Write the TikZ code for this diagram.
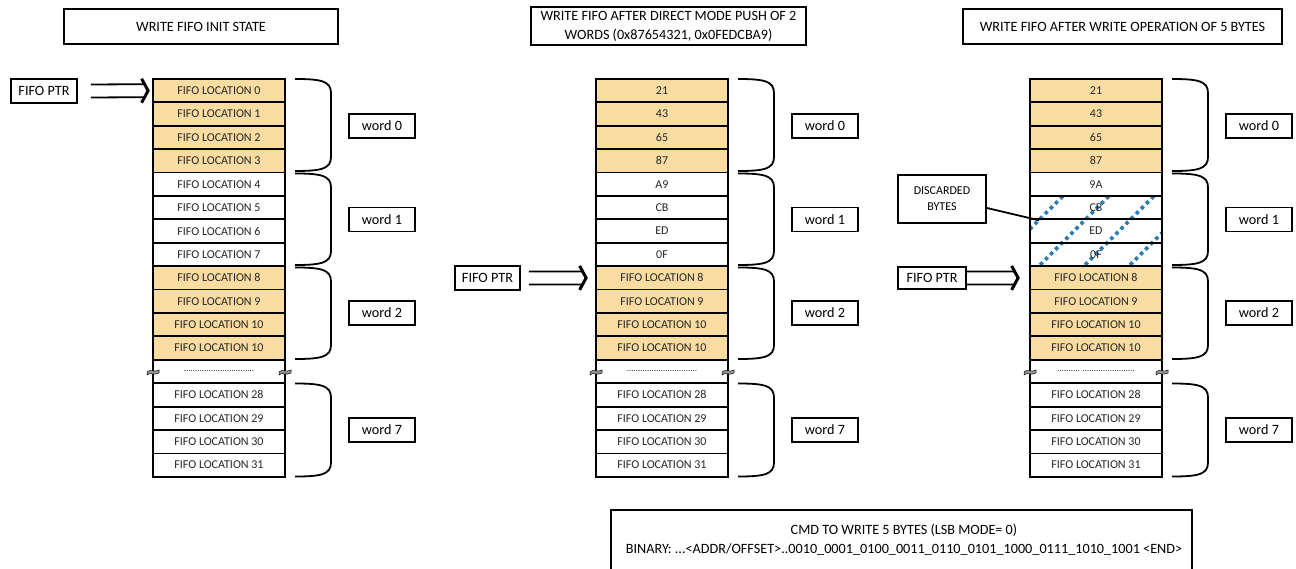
\documentclass[tikz,border=0pt]{standalone}
\usepackage{fontspec}
\setmainfont{Carlito}
\usetikzlibrary{calc}
\definecolor{cellorange}{RGB}{249,220,162}
\definecolor{hatchblue}{RGB}{46,125,178}
\definecolor{breakgray}{RGB}{150,150,150}
\newcommand\fsz[1]{\fontsize{#1}{#1}\selectfont}
\newcommand\wordbrace[3]{%
  \draw[bracestyle] ({#1},{#2}) .. controls ({#1+26},{#2}) and ({#1+36},{#2+2}) .. ({#1+36},{#2+14})
    -- ({#1+36},{#3-14}) .. controls ({#1+36},{#3-2}) and ({#1+26},{#3}) .. ({#1},{#3});}
\newcommand\ptrarrow[4]{%
  \coordinate (pa#1) at ([xshift=#3]#1.east);
  \coordinate (pb#1) at ([xshift=-#4]#2.west);
  \draw[ptrline] ([yshift=6.5pt]pa#1) -- ([xshift=-3pt,yshift=6.5pt]pb#1)
                 ([yshift=-6.5pt]pa#1) -- ([xshift=-3pt,yshift=-6.5pt]pb#1);
  \draw[ptrhead] ([xshift=-6.5pt,yshift=12pt]pb#1) -- (pb#1) -- ([xshift=-6.5pt,yshift=-12pt]pb#1);}
\newcommand\breakmark[2]{%
  \draw[fill=breakgray, line width=0.5pt] ({#1-6},{#2+0.5}) .. controls ({#1-3},{#2-3}) and ({#1+1},{#2+1.5}) .. ({#1+6},{#2-1.5})
    -- ({#1+6},{#2+1.5}) .. controls ({#1+1},{#2+4.5}) and ({#1-3},{#2}) .. ({#1-6},{#2+3.5}) -- cycle;}
\tikzset{
  cell/.style={draw, line width=1.8pt, minimum width=132pt, minimum height=23.4pt, inner sep=0pt, font=\fsz{12}, text=black!85},
  box/.style={draw, line width=1.8pt, inner sep=0pt, font=\fsz{14.2}},
  wordbox/.style={box, minimum width=66pt, minimum height=24pt},
  titlebox/.style={box, minimum height=35pt},
  bracestyle/.style={line width=1.8pt},
  ptrline/.style={line width=1.8pt},
  ptrhead/.style={line width=3pt, miter limit=10},
  hatch/.style={hatchblue, line width=3.6pt, dash pattern=on 3.6pt off 3.6pt},
}
\begin{document}
\begin{tikzpicture}[x=1pt,y=-1pt]
\useasboundingbox (0,0) rectangle (1296,569);

% titles
\node[titlebox, minimum width=274pt] (t1) at (201,26.5) {WRITE FIFO INIT STATE};
\node[titlebox, minimum width=275pt, minimum height=38pt, align=center, font=\fontsize{14.2}{19}\selectfont] (t2) at (668.5,26) {WRITE FIFO AFTER DIRECT MODE PUSH OF 2\\WORDS (0x87654321, 0x0FEDCBA9)};
\node[titlebox, minimum width=319pt] (t3) at (1122.5,26.5) {WRITE FIFO AFTER WRITE OPERATION OF 5 BYTES};

% hatching behind column 3 rows 5-7
\begin{scope}
  \clip (1030,196) rectangle (1162,266.2);
  \foreach \x in {944,989,1035,1080,1125,1170} {
    \draw[hatch] (\x,270) -- ({\x+80},190);
  }
\end{scope}

% column 1
\foreach \lab/\fc [count=\i from 0] in {
  FIFO LOCATION 0/cellorange, FIFO LOCATION 1/cellorange, FIFO LOCATION 2/cellorange, FIFO LOCATION 3/cellorange,
  FIFO LOCATION 4/white, FIFO LOCATION 5/white, FIFO LOCATION 6/white, FIFO LOCATION 7/white,
  FIFO LOCATION 8/cellorange, FIFO LOCATION 9/cellorange, FIFO LOCATION 10/cellorange, FIFO LOCATION 10/cellorange,
  {\fsz{9}...............................}/white,
  FIFO LOCATION 28/white, FIFO LOCATION 29/white, FIFO LOCATION 30/white, FIFO LOCATION 31/white}
  \node[cell, fill=\fc] (c1r\i) at (219,{90.7+23.4*\i}) {\lab};

% column 2
\foreach \lab/\fc [count=\i from 0] in {
  21/cellorange, 43/cellorange, 65/cellorange, 87/cellorange,
  A9/white, CB/white, ED/white, 0F/white,
  FIFO LOCATION 8/cellorange, FIFO LOCATION 9/cellorange, FIFO LOCATION 10/cellorange, FIFO LOCATION 10/cellorange,
  {\fsz{9}...............................}/white,
  FIFO LOCATION 28/white, FIFO LOCATION 29/white, FIFO LOCATION 30/white, FIFO LOCATION 31/white}
  \node[cell, fill=\fc] (c2r\i) at (662,{90.7+23.4*\i}) {\lab};

% column 3
\foreach \lab/\fc [count=\i from 0] in {
  21/cellorange, 43/cellorange, 65/cellorange, 87/cellorange,
  9A/white, CB/none, ED/none, 0F/none,
  FIFO LOCATION 8/cellorange, FIFO LOCATION 9/cellorange, FIFO LOCATION 10/cellorange, FIFO LOCATION 10/cellorange,
  {\fsz{9}.......... .......................}/white,
  FIFO LOCATION 28/white, FIFO LOCATION 29/white, FIFO LOCATION 30/white, FIFO LOCATION 31/white}
  \node[cell, fill=\fc] (c3r\i) at (1096,{90.7+23.4*\i}) {\lab};

% break marks
\foreach \L in {153,596,1030} {
  \breakmark{\L}{371.5}
  \breakmark{\L+132}{371.5}
}

% braces and word boxes
\foreach \L/\c in {153/1,596/2,1030/3} {
  \wordbrace{\L+142}{79}{171}
  \wordbrace{\L+142}{173.5}{265}
  \wordbrace{\L+142}{267.5}{359}
  \wordbrace{\L+142}{383.5}{476.5}
  \node[wordbox] (w0c\c) at ({\L+229},126) {word 0};
  \node[wordbox] (w1c\c) at ({\L+229},219.5) {word 1};
  \node[wordbox] (w2c\c) at ({\L+229},313) {word 2};
  \node[wordbox] (w7c\c) at ({\L+229},430) {word 7};
}

% FIFO pointers
\node[box, minimum width=66pt, minimum height=24pt] (p1) at (44,91) {FIFO PTR};
\node[box, minimum width=65pt, minimum height=24pt] (p2) at (487.5,278) {FIFO PTR};
\node[box, minimum width=68pt, minimum height=22pt] (p3) at (932,278) {FIFO PTR};
\ptrarrow{p1}{c1r0}{13pt}{4pt}
\ptrarrow{p2}{c2r8}{8pt}{9pt}
\ptrarrow{p3}{c3r8}{0pt}{11pt}

% discarded bytes
\node[box, minimum width=88pt, minimum height=48pt, align=center, font=\fontsize{12}{16}\selectfont] (disc) at (942,199) {DISCARDED\\BYTES};
\coordinate (discend) at ([xshift=10pt]c3r5.south west);
\draw[line width=1.8pt] ([yshift=-9pt]disc.east) -- (discend);

% command box
\node[box, minimum width=581pt, minimum height=70pt] (cmdbox) at (901.5,545) {};
\node[align=center, font=\fontsize{14.2}{18.5}\selectfont, inner sep=0pt] (cmdtxt) at (904,540) {CMD TO WRITE 5 BYTES (LSB MODE= 0)\\BINARY: ...<ADDR/OFFSET>..0010\_0001\_0100\_0011\_0110\_0101\_1000\_0111\_1010\_1001 <END>};
\end{tikzpicture}
\end{document}
